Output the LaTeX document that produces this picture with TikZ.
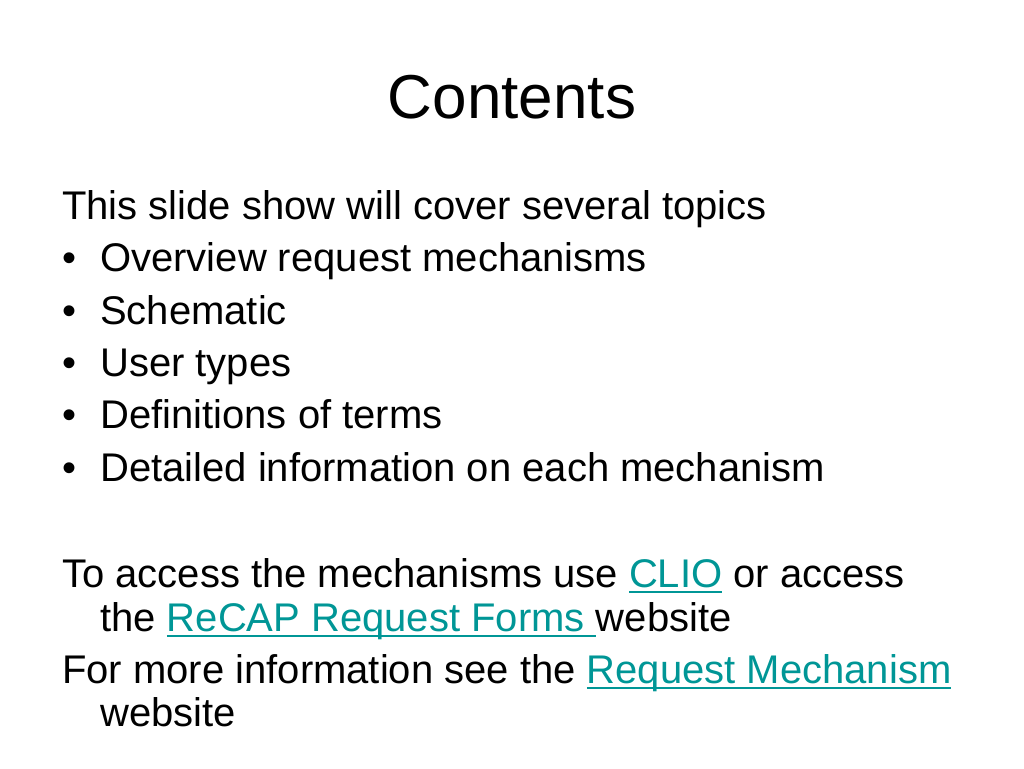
\documentclass[tikz,border=0pt]{standalone}
\usepackage{fontspec}
\usepackage{xcolor}
\setmainfont{Liberation Sans}
\definecolor{linkteal}{RGB}{0,150,150}
\newcommand{\lnk}[1]{{\color{linkteal}\setbox0\hbox{#1}\rlap{\rule[-6pt]{\wd0}{2pt}}\box0}}
\tikzset{
  line/.style={anchor=base west, inner sep=0pt, font=\fontsize{40}{48}\selectfont},
  bul/.style={anchor=base west, inner sep=0pt, font=\fontsize{40}{48}\selectfont}
}

\begin{document}
\begin{tikzpicture}[x=1pt,y=-1pt]
\useasboundingbox[fill=white] (0,0) rectangle (1024,768);
% title
\node[anchor=base, inner sep=0pt, font=\fontsize{62}{70}\selectfont] (title) at (512,118) {Contents};
% intro and bullets
\node[line] (intro) at (62,219) {This slide show will cover several topics};
\node[bul] (b1) at (62,271) {\textbullet};
\node[line] (t1) at (100,271) {Overview request mechanisms};
\node[bul] (b2) at (62,324) {\textbullet};
\node[line] (t2) at (100,324) {Schematic};
\node[bul] (b3) at (62,376) {\textbullet};
\node[line] (t3) at (100,376) {User types};
\node[bul] (b4) at (62,428) {\textbullet};
\node[line] (t4) at (100,428) {Definitions of terms};
\node[bul] (b5) at (62,481) {\textbullet};
\node[line] (t5) at (100,481) {Detailed information on each mechanism};
% access lines
\node[line] (acc1) at (62,587) {To access the mechanisms use \lnk{CLIO} or access};
\node[line] (acc2) at (100,631) {the \lnk{ReCAP Request Forms\ }website};
\node[line] (info1) at (62,683) {For more information see the \lnk{Request Mechanism}};
\node[line] (info2) at (100,726) {website};
\end{tikzpicture}
\end{document}
